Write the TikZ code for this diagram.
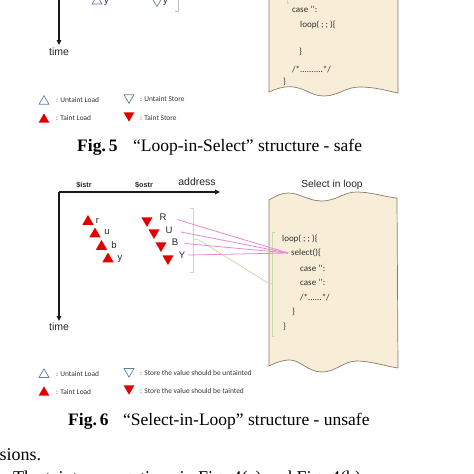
\documentclass[tikz,border=0pt]{standalone}
\usepackage{fontspec}
\setmainfont{Liberation Serif}
\newfontfamily\calfont{Carlito}
\newfontfamily\arfont{Liberation Sans}
\usetikzlibrary{shapes.geometric,arrows.meta}
\definecolor{paper}{HTML}{F8EDD7}
\definecolor{paperedge}{HTML}{857B70}
\definecolor{tred}{HTML}{E00000}
\definecolor{tblue}{HTML}{5F80AA}
\definecolor{pinkln}{HTML}{E58AD6}
\definecolor{greenln}{HTML}{C8DCAE}
\definecolor{codetxt}{HTML}{303030}
\begin{document}
\begin{tikzpicture}[x=1pt,y=-1pt,
  tri/.style={regular polygon,regular polygon sides=3,minimum size=12.5pt,inner sep=0pt},
  tup/.style={tri,fill=tred},
  tdown/.style={tri,fill=tred,shape border rotate=180},
  oup/.style={tri,draw=tblue,line width=0.7pt,minimum size=11.5pt},
  odown/.style={tri,draw=tblue,line width=0.7pt,minimum size=11.5pt,shape border rotate=180},
  bigtri/.style={tri,fill=tred,minimum size=13pt},
  bigdown/.style={bigtri,shape border rotate=180},
  codetext/.style={font=\calfont\fontsize{9}{10}\selectfont,text=codetxt,anchor=west,inner sep=0pt},
  legtext/.style={font=\calfont\fontsize{7.4}{8}\selectfont,text=black!80,anchor=west,inner sep=0pt},
  lbl/.style={font=\arfont\fontsize{9.5}{10}\selectfont,text=black!85,inner sep=0pt},
  axlbl/.style={font=\arfont\fontsize{10.5}{11}\selectfont,text=black!85,inner sep=0pt},
  varlbl/.style={font=\arfont\bfseries\fontsize{7.3}{8}\selectfont,text=black!85,inner sep=0pt},
  axisline/.style={line width=1.1pt,draw=black!90,-{Triangle[length=5pt,width=4.5pt]}},
  sheet/.style={fill=paper,draw=paperedge,line width=0.7pt},
  brk/.style={draw=greenln,line width=0.8pt},
  pinkline/.style={draw=pinkln,line width=0.8pt},
  captxt/.style={font=\fontsize{17.5}{20}\selectfont,anchor=base west,inner sep=0pt},
  bodytxt/.style={font=\fontsize{18}{21}\selectfont,anchor=base west,inner sep=0pt}
]
\useasboundingbox (0,0) rectangle (474,474);

% ---------------- Fig. 5 (lower part) ----------------
\path[sheet] (269,-3) -- (269,92)
  .. controls (278,88) and (285,86) .. (294,87)
  .. controls (306,89) and (312,96) .. (324,96)
  .. controls (338,96) and (345,87) .. (360,87)
  .. controls (375,87) and (388,91) .. (398,93) -- (398,-3);
\draw[brk] (289,3) -- (287,3) -- (287,-3);
\node[codetext] (c5a) at (292,9) {case ‘’:};
\node[codetext] (c5b) at (300,25) {loop( ; ; )\{};
\node[codetext] (c5c) at (299,52) {\}};
\node[codetext] (c5d) at (292,69) {/*..........*/};
\node[codetext] (c5e) at (283,82) {\}};

\draw[axisline] (59,-3) -- (59,45);
\node[axlbl] (time5) at (59,52) {time};
\node[oup] (u5) at (97,1.2) {};
\node[lbl,anchor=west] (uy5) at (104,2) {y};
\node[odown] (d5) at (157,0.9) {};
\node[lbl,anchor=west] (dy5) at (163,2) {y};
\draw[draw=black!25,line width=0.6pt] (175,11) -- (178,11) -- (178,-3);

\node[oup] (l5a) at (44,101.4) {};
\node[legtext] (l5at) at (56,100) {: Untaint Load};
\node[odown] (l5b) at (129,97.6) {};
\node[legtext] (l5bt) at (140,99) {: Untaint Store};
\node[tup] (l5c) at (44,119.6) {};
\node[legtext] (l5ct) at (56,118) {: Taint Load};
\node[tdown] (l5d) at (129,115.4) {};
\node[legtext] (l5dt) at (140,118) {: Taint Store};

\node[captxt] (cap5a) at (77,151) {\textbf{Fig.\,5}};
\node[captxt] (cap5b) at (133,151) {“Loop-in-Select” structure - safe};

% ---------------- Fig. 6 ----------------
\node[varlbl] (istr) at (84,185) {\$istr};
\node[varlbl] (ostr) at (144,185) {\$ostr};
\node[axlbl] (addr) at (197,182) {address};
\coordinate (origin) at (59,192);
\draw[axisline] (origin) -- (220,192);
\draw[axisline] (origin) -- (59,321);
\node[axlbl] (time6) at (59,327) {time};

\node[bigtri] (tr) at (88,221.5) {};
\node[bigtri] (tu) at (95,234) {};
\node[bigtri] (tb) at (101.5,246.5) {};
\node[bigtri] (ty) at (108,259) {};
\node[lbl] (lr) at (97.5,220.5) {r};
\node[lbl] (lu) at (107,232) {u};
\node[lbl] (lb) at (114,245.5) {b};
\node[lbl] (ly) at (120,259) {y};

\node[bigdown] (sR) at (147,220.5) {};
\node[bigdown] (sU) at (154,232.5) {};
\node[bigdown] (sB) at (161,245.5) {};
\node[bigdown] (sY) at (168,258.5) {};
\node[lbl] (lR) at (163,217) {R};
\node[lbl] (lU) at (169,230) {U};
\node[lbl] (lB) at (175,242) {B};
\node[lbl] (lY) at (182,255) {Y};

\draw[brk] (190,208) -- (193,208) -- (193,272) -- (190,272);
\coordinate (brkR) at (193,239);

\node[font=\arfont\fontsize{10.2}{11}\selectfont,text=black!85,inner sep=0pt] (title6) at (332,185) {Select in loop};
\path[sheet] (269,200)
  .. controls (276,196) and (281,193) .. (288,193)
  .. controls (300,193) and (308,201) .. (322,201)
  .. controls (336,201) and (344,192) .. (356,192)
  .. controls (372,192) and (385,197) .. (397,198)
  -- (398,368)
  .. controls (385,366) and (370,361) .. (357,361)
  .. controls (343,361) and (336,372) .. (322,372)
  .. controls (308,372) and (300,360) .. (290,360)
  .. controls (282,360) and (275,363) .. (269,366) -- cycle;

\draw[brk] (275,232) -- (272,232) -- (272,336) -- (275,336);
\coordinate (brkL) at (272,284);

\node[codetext] (c6a) at (282,239) {loop( ; ; )\{};
\node[codetext] (c6b) at (291,253) {select()\{};
\node[codetext] (c6c) at (300,268) {case ‘’:};
\node[codetext] (c6d) at (300,282) {case ‘’:};
\node[codetext] (c6e) at (300,297) {/*......*/};
\node[codetext] (c6f) at (292,312) {\}};
\node[codetext] (c6g) at (283,327) {\}};

\draw[brk] (brkR) -- (199,240) -- (268,283) -- (brkL);

\coordinate (sel) at ([xshift=-3pt]c6b.west);
\coordinate (pR) at (177,219.5);
\coordinate (pU) at (181,232);
\coordinate (pB) at (185,243.5);
\coordinate (pY) at (188,255);
\draw[pinkline] (pR) -- (sel);
\draw[pinkline] (pU) -- (sel);
\draw[pinkline] (pB) -- (sel);
\draw[pinkline] (pY) -- (sel);

\node[oup] (l6a) at (44,374.6) {};
\node[legtext] (l6at) at (56,374) {: Untaint Load};
\node[odown] (l6b) at (129,371.4) {};
\node[legtext] (l6bt) at (140,373) {: Store the value should be untainted};
\node[tup] (l6c) at (44,392.6) {};
\node[legtext] (l6ct) at (56,392) {: Taint Load};
\node[tdown] (l6d) at (129,388.4) {};
\node[legtext] (l6dt) at (140,391) {: Store the value should be tainted};

\node[captxt] (cap6a) at (68,425) {\textbf{Fig.\,6}};
\node[captxt] (cap6b) at (123,425) {“Select-in-Loop” structure - unsafe};

% ---------------- body text ----------------
\node[bodytxt] (txt1) at (-0.5,460) {sions.};
\node[bodytxt] (txt2) at (13,483.5) {The taint propagations in Fig. 4(a) and Fig. 4(b)};
\end{tikzpicture}
\end{document}
